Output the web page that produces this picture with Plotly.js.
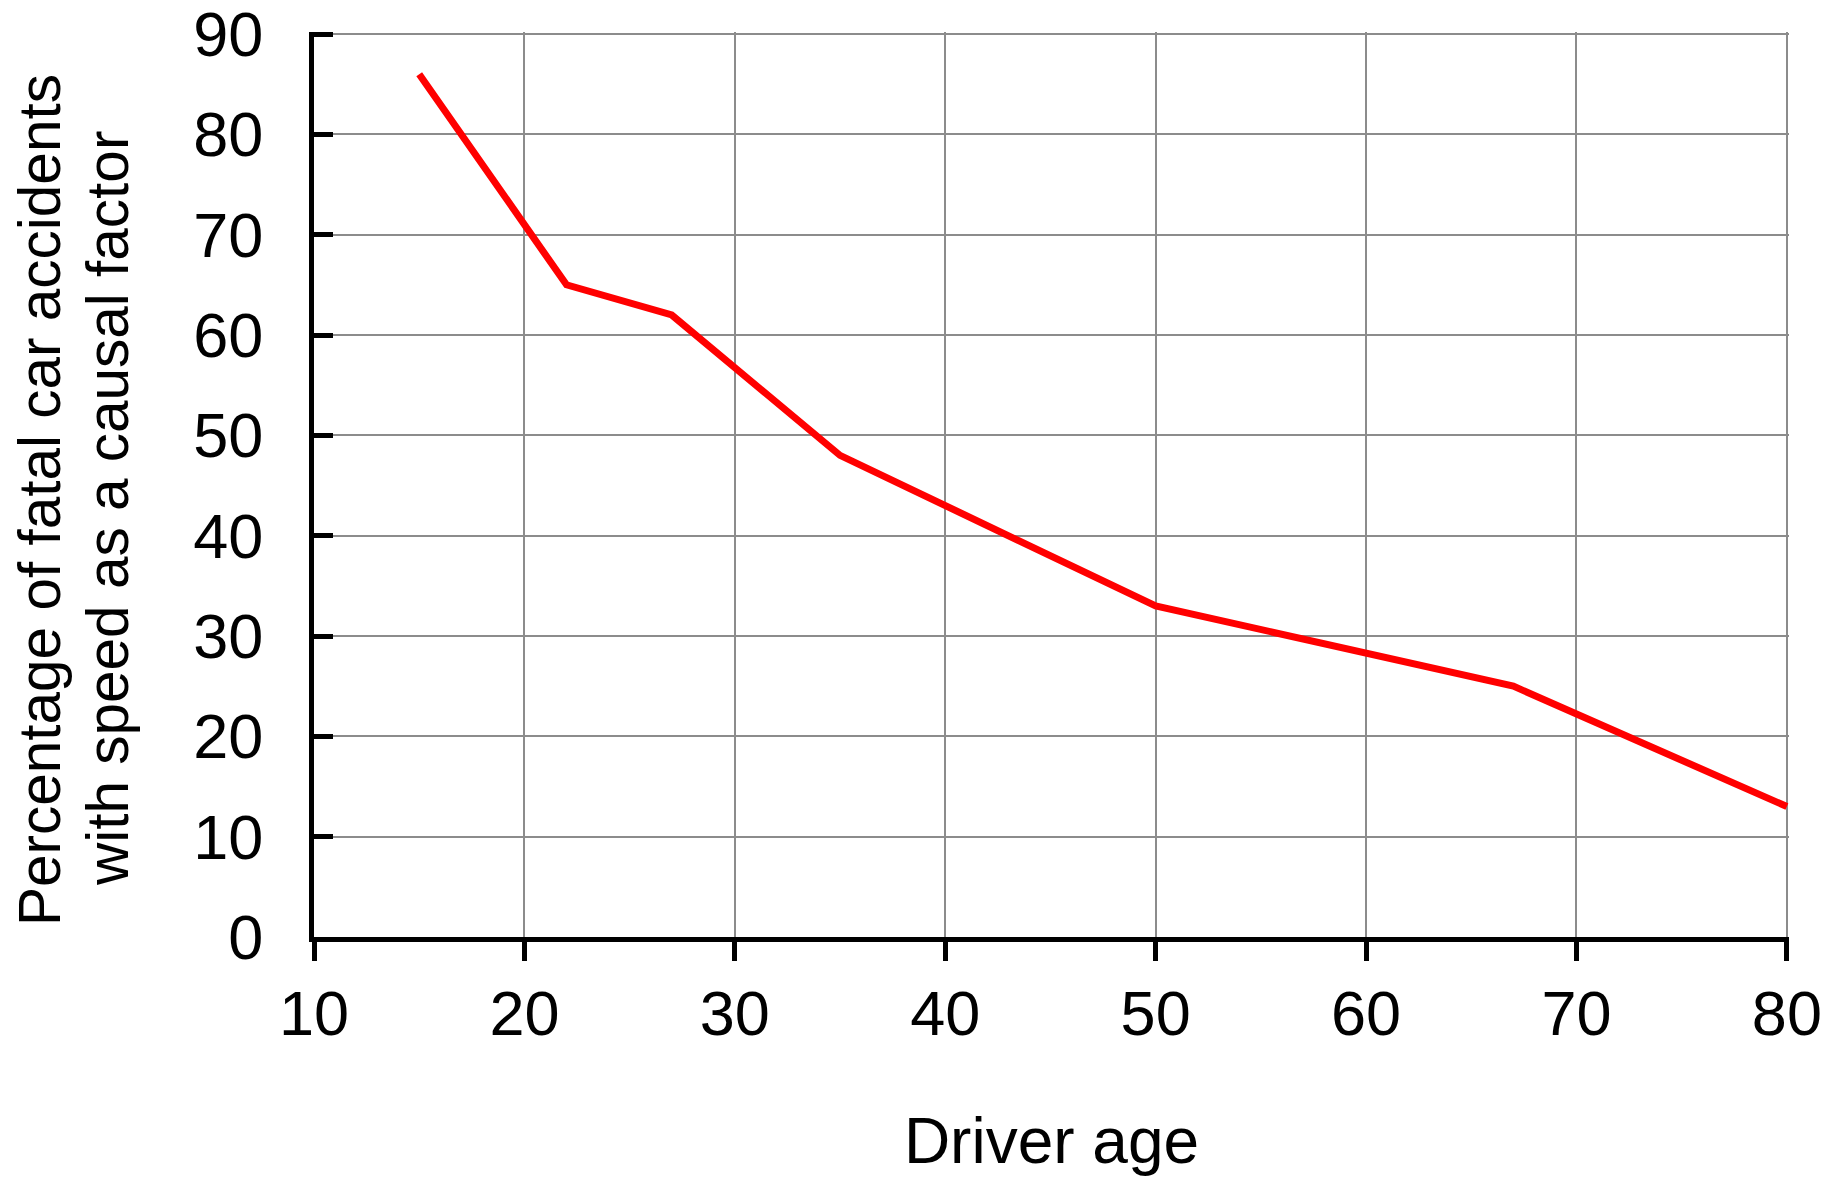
<!DOCTYPE html>
<html>
<head>
<meta charset="utf-8">
<script src="https://cdn.plot.ly/plotly-3.0.1.min.js"></script>
<style>html,body{margin:0;padding:0;background:#fff;}#chart{width:1837px;height:1177px;}</style>
</head>
<body>
<div id="chart"></div>
<script>
const driverAge = [15, 22, 27, 35, 50, 67, 80];
const speedPercent = [86, 65, 62, 48, 33, 25, 13];
const xTicks = [10, 20, 30, 40, 50, 60, 70, 80];
const yTicks = [0, 10, 20, 30, 40, 50, 60, 70, 80, 90];
const yTitleLines = ['Percentage of fatal car accidents', 'with speed as a causal factor'];
const xTitle = 'Driver age';

const FONT = 'Arial, "Liberation Sans", sans-serif';

const trace = {
  x: driverAge,
  y: speedPercent,
  type: 'scatter',
  mode: 'lines',
  line: {color: '#ff0000', width: 7},
  cliponaxis: false,
  hoverinfo: 'x+y'
};

const layout = {
  width: 1837,
  height: 1177,
  paper_bgcolor: '#ffffff',
  plot_bgcolor: '#ffffff',
  margin: {l: 314, r: 48, t: 32, b: 240},
  showlegend: false,
  font: {family: FONT, color: '#000000', size: 58},
  xaxis: {
    range: [10, 80.1],
    tickvals: xTicks,
    ticktext: xTicks.map(String),
    ticks: 'outside',
    ticklen: 19,
    tickwidth: 5,
    tickcolor: '#000000',
    ticklabelstandoff: -2,
    ticklabeloverflow: 'allow',
    showline: true,
    linecolor: '#000000',
    linewidth: 5,
    showgrid: true,
    gridcolor: '#8c8c8c',
    gridwidth: 2,
    zeroline: false,
    tickfont: {family: FONT, size: 63, color: '#000000'},
    title: {text: xTitle, font: {family: FONT, size: 64, color: '#000000'}, standoff: 86},
    automargin: false
  },
  yaxis: {
    range: [0, 90.2],
    tickvals: yTicks,
    ticktext: yTicks.map(String),
    ticks: 'inside',
    ticklen: 19,
    tickwidth: 5,
    tickcolor: '#000000',
    ticklabelstandoff: 33,
    ticklabeloverflow: 'allow',
    showline: true,
    linecolor: '#000000',
    linewidth: 5,
    showgrid: true,
    gridcolor: '#8c8c8c',
    gridwidth: 2,
    zeroline: false,
    tickfont: {family: FONT, size: 63, color: '#000000'},
    automargin: false
  },
  annotations: [
    {
      text: yTitleLines[0], textangle: -90, showarrow: false,
      xref: 'paper', yref: 'paper', x: 0, y: 0.4828, xanchor: 'center', yanchor: 'middle',
      xshift: -275, font: {family: FONT, size: 58.5, color: '#000000'}
    },
    {
      text: yTitleLines[1], textangle: -90, showarrow: false,
      xref: 'paper', yref: 'paper', x: 0, y: 0.4729, xanchor: 'center', yanchor: 'middle',
      xshift: -207, font: {family: FONT, size: 58.5, color: '#000000'}
    }
  ]
};

Plotly.newPlot('chart', [trace], layout, {displayModeBar: false, staticPlot: true});
</script>
</body>
</html>
